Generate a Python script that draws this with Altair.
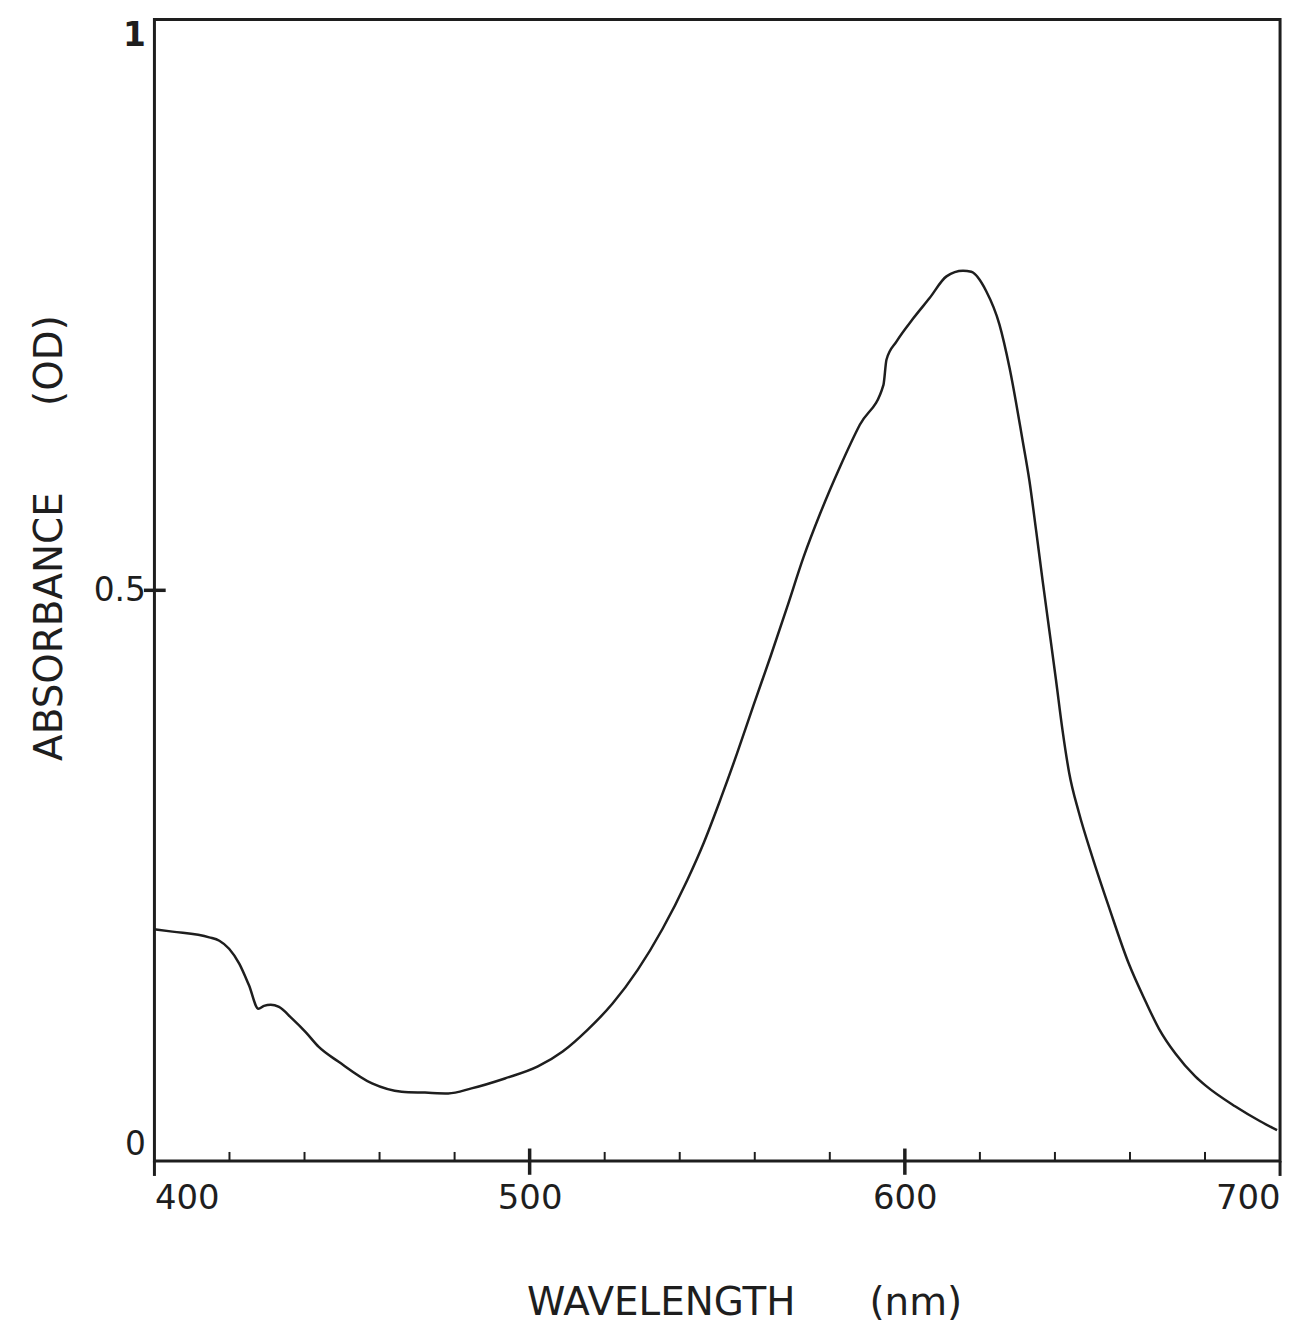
import altair as alt
import pandas as pd

# Curve
wavelength = [400, 404.8, 414.6, 417.3, 419.9, 422.6, 425.2, 427.7, 429.2, 431, 433.2, 436.7,
              440.3, 443.8, 449.1, 458, 465.9, 472.1, 478.3, 484.5, 493.4, 502.2, 508.8,
              515.5, 522.1, 528.8, 535.4, 542, 546.5, 550.9, 555.3, 559.7, 564.2, 568.6,
              573, 577.4, 582.7, 588, 594.3, 595.1, 597.8, 602.2, 606.6, 611.1, 615.5,
              617.7, 621.7, 625.2, 627.9, 631.4, 633.2, 635, 636.7, 638.5, 640.3, 642,
              643.8, 646.4, 650, 654.4, 659.7, 664.2, 667.7, 672.1, 677.4, 680.1, 688,
              694.7, 699.2]
absorbance = [0.203, 0.201, 0.196, 0.193, 0.186, 0.173, 0.154, 0.1335, 0.136, 0.137, 0.135,
              0.1248, 0.113, 0.100, 0.087, 0.068, 0.0608, 0.060, 0.0593, 0.0637, 0.0724, 0.0829,
              0.0960, 0.1152, 0.138, 0.1675, 0.2033, 0.2461, 0.2796, 0.3173, 0.3573, 0.3997,
              0.442, 0.485, 0.529, 0.567, 0.608, 0.645, 0.680, 0.702, 0.718, 0.738, 0.756,
              0.775, 0.780, 0.779, 0.762, 0.733, 0.695, 0.631, 0.596, 0.552, 0.509, 0.465,
              0.421, 0.378, 0.340, 0.3051, 0.2661, 0.2225, 0.1728, 0.1396, 0.1161, 0.0942,
              0.0742, 0.0663, 0.048, 0.0349, 0.0271]

# Axis ticks and labels
x_labels = [400, 500, 600, 700]
x_major_ticks = [500, 600]
x_end_ticks = [400, 700]
x_minor_ticks = [420, 440, 460, 480, 520, 540, 560, 580, 620, 640, 660, 680]
y_labels = [0, 0.5, 1]
y_ticks = [0.5]

df = pd.DataFrame({"wavelength": wavelength, "absorbance": absorbance})

xscale = alt.Scale(domain=[400, 700], nice=False, zero=False)
yscale = alt.Scale(domain=[0, 1], nice=False)
INK = "#1e1e1e"
FONT = "DejaVu Sans"
NB = "\u00a0"

line = alt.Chart(df).mark_line(color=INK, strokeWidth=2.5, interpolate="monotone").encode(
    x=alt.X("wavelength:Q", scale=xscale,
            axis=alt.Axis(values=x_labels, title="WAVELENGTH" + NB * 6 + "(nm)",
                          domain=False, ticks=False, tickSize=0, grid=False,
                          labelFlush=True, labelPadding=21, labelFontSize=34,
                          labelFont=FONT, labelColor=INK,
                          titleFont=FONT, titleFontSize=39, titleFontWeight="normal",
                          titleColor=INK, titleX=592, titleY=154, titleAlign="center",
                          titleBaseline="alphabetic")),
    y=alt.Y("absorbance:Q", scale=yscale,
            axis=alt.Axis(values=y_labels, title="ABSORBANCE" + NB * 7 + "(OD)",
                          domain=False, ticks=False, tickSize=0, grid=False,
                          labelFlush=True, labelPadding=9, labelFontSize=33,
                          labelFont=FONT, labelColor=INK,
                          labelExpr="datum.value == 0.5 ? '0.5' : datum.value == 1 ? '1' : '0'",
                          labelFontWeight=alt.condition("datum.value == 1", alt.value("bold"), alt.value("normal")),
                          titleFont=FONT, titleFontSize=39, titleFontWeight="normal",
                          titleColor=INK, titleAngle=270, titleX=-93, titleY=520,
                          titleAlign="center", titleBaseline="alphabetic")),
)

minor = alt.Chart(pd.DataFrame({"t": x_minor_ticks})).mark_rule(color=INK, strokeWidth=2).encode(
    x=alt.X("t:Q", scale=xscale), y=alt.datum(0), y2=alt.datum(0.008))
major = alt.Chart(pd.DataFrame({"t": x_major_ticks})).mark_rule(color=INK, strokeWidth=3.5).encode(
    x=alt.X("t:Q", scale=xscale), y=alt.datum(-0.012), y2=alt.datum(0.011))
ends = alt.Chart(pd.DataFrame({"t": x_end_ticks})).mark_rule(color=INK, strokeWidth=3).encode(
    x=alt.X("t:Q", scale=xscale), y=alt.datum(-0.013), y2=alt.datum(0))
ytick = alt.Chart(pd.DataFrame({"v": y_ticks})).mark_rule(color=INK, strokeWidth=3.5).encode(
    y=alt.Y("v:Q", scale=yscale), x=alt.datum(397.2), x2=alt.datum(403))

chart = alt.layer(line, minor, major, ends, ytick).properties(
    width=1130, height=1146,
    autosize=alt.AutoSizeParams(type="none"),
    padding={"left": 147, "top": 9, "right": 14, "bottom": 170},
    background="white",
).configure_view(stroke=INK, strokeWidth=3)

chart.save("out.html", embed_options={"renderer": "svg", "actions": False})
